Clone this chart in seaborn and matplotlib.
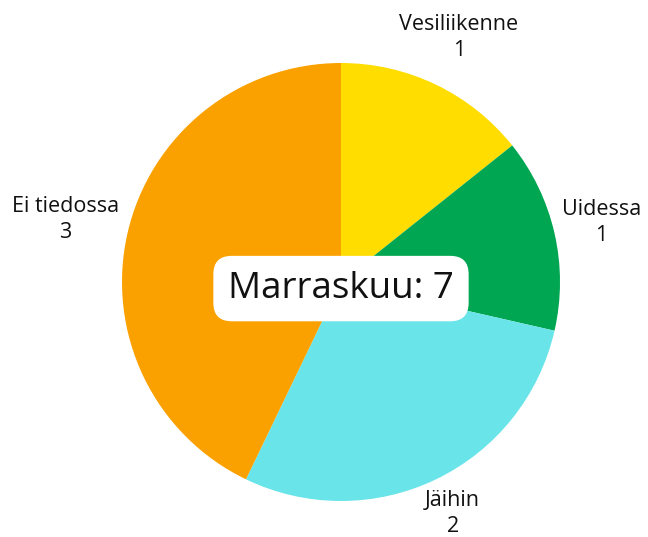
import numpy as np
import seaborn as sns
import matplotlib.pyplot as plt

categories = ["Vesiliikenne", "Uidessa", "Jäihin", "Ei tiedossa"]
counts = [1, 1, 2, 3]
colors = ["#FFDD00", "#00A651", "#69E4E9", "#FAA100"]
month = "Marraskuu"

sns.set_theme(style="white")
plt.rcParams["font.family"] = ["Open Sans", "DejaVu Sans"]

fig = plt.figure(figsize=(6.48, 5.37), dpi=100)
ax = fig.add_axes([0, 0, 1, 1])
r_px = 219
cx, cy = 341, 282

wedges, _ = ax.pie(counts, colors=colors, startangle=90, counterclock=False,
                   radius=1.0, wedgeprops=dict(linewidth=0))
ax.set_aspect("auto")
ax.set_xlim(-cx / r_px, (648 - cx) / r_px)
ax.set_ylim(-(537 - cy) / r_px, cy / r_px)
ax.axis("off")

label_dist = [1.24, 1.22, 1.175, 1.29]
for w, name, n, d in zip(wedges, categories, counts, label_dist):
    ang = np.deg2rad((w.theta1 + w.theta2) / 2)
    ax.text(d * np.cos(ang), d * np.sin(ang), f"{name}\n{n}", ha="center", va="center",
            fontsize=15.5, linespacing=1.3, color="#111111")

ax.text(0.0, -0.03, f"{month}: {sum(counts)}", ha="center", va="center", fontsize=26.5,
        color="#111111",
        bbox=dict(boxstyle="round,pad=0.4,rounding_size=0.5", fc="white", ec="none"))

fig.savefig("out.png", dpi=100)
